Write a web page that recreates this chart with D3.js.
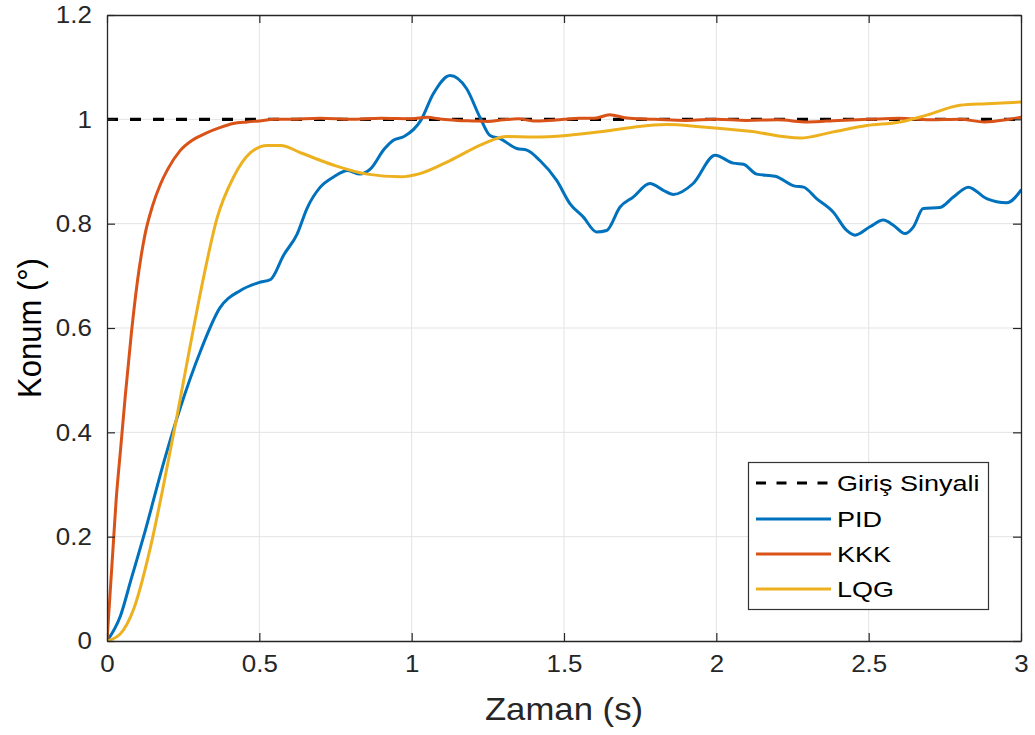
<!DOCTYPE html>
<html>
<head>
<meta charset="utf-8">
<script src="https://cdn.jsdelivr.net/npm/d3@7"></script>
<style>
  html, body { margin: 0; padding: 0; background: #fff; }
  svg { display: block; font-family: "Liberation Sans", Arial, Helvetica, sans-serif; }
</style>
</head>
<body>
<svg id="chart" width="1035" height="735"></svg>
<script>
// Step response: position vs time for three controllers
const xTicks = [0, 0.5, 1, 1.5, 2, 2.5, 3];
const yTicks = [0, 0.2, 0.4, 0.6, 0.8, 1, 1.2];
const xTickLabels = ["0", "0.5", "1", "1.5", "2", "2.5", "3"];
const yTickLabels = ["0", "0.2", "0.4", "0.6", "0.8", "1", "1.2"];
const seriesNames = ["Giriş Sinyali", "PID", "KKK", "LQG"];
const seriesColors = ["#000000", "#0072BD", "#D95319", "#EDB120"];

const inputT = [0, 3];
const inputY = [1, 1];

const pidT = [0, 0.044, 0.08, 0.12, 0.19, 0.24, 0.307, 0.37, 0.438, 0.498, 0.537, 0.58, 0.624, 0.657, 0.70, 0.745, 0.79, 0.83, 0.865, 0.91, 0.94, 0.975, 1.03, 1.071, 1.126, 1.18, 1.224, 1.257, 1.29, 1.345, 1.378, 1.421, 1.476, 1.52, 1.563, 1.607, 1.64, 1.684, 1.727, 1.782, 1.826, 1.859, 1.924, 1.996, 2.056, 2.089, 2.132, 2.193, 2.258, 2.286, 2.329, 2.384, 2.428, 2.455, 2.504, 2.548, 2.581, 2.619, 2.647, 2.679, 2.734, 2.778, 2.827, 2.887, 2.953, 3.0];
const pidY = [0, 0.048, 0.12, 0.2, 0.35, 0.446, 0.556, 0.638, 0.672, 0.687, 0.693, 0.74, 0.78, 0.83, 0.87, 0.89, 0.902, 0.895, 0.905, 0.943, 0.96, 0.967, 0.998, 1.049, 1.084, 1.059, 1.004, 0.969, 0.963, 0.944, 0.941, 0.921, 0.883, 0.838, 0.813, 0.784, 0.787, 0.832, 0.851, 0.877, 0.864, 0.856, 0.877, 0.931, 0.916, 0.914, 0.895, 0.891, 0.872, 0.870, 0.848, 0.822, 0.787, 0.778, 0.794, 0.807, 0.797, 0.781, 0.794, 0.829, 0.831, 0.851, 0.870, 0.848, 0.840, 0.864];

const kkkT = [0, 0.01, 0.02, 0.03, 0.045, 0.06, 0.08, 0.1, 0.125, 0.15, 0.175, 0.2, 0.24, 0.28, 0.327, 0.37, 0.414, 0.46, 0.5, 0.55, 0.6, 0.7, 0.8, 0.9, 1.0, 1.05, 1.1, 1.15, 1.2, 1.25, 1.3, 1.35, 1.4, 1.45, 1.5, 1.55, 1.6, 1.65, 1.7, 1.75, 1.8, 1.9, 2.0, 2.1, 2.2, 2.3, 2.4, 2.5, 2.6, 2.7, 2.8, 2.88, 2.95, 3.0];
const kkkY = [0, 0.09, 0.18, 0.27, 0.37, 0.47, 0.59, 0.69, 0.78, 0.835, 0.875, 0.905, 0.94, 0.96, 0.974, 0.984, 0.992, 0.995, 0.997, 1.0, 1.0, 1.002, 1.0, 1.002, 1.001, 1.004, 1.0, 0.998, 0.997, 0.996, 0.999, 1.001, 0.997, 0.998, 1.0, 1.002, 1.002, 1.009, 1.003, 1.001, 1.0, 0.998, 1.0, 0.998, 0.999, 0.995, 0.998, 1.0, 1.002, 0.999, 1.0, 0.995, 0.999, 1.004];

const lqgT = [0, 0.044, 0.088, 0.142, 0.186, 0.23, 0.274, 0.318, 0.361, 0.416, 0.471, 0.526, 0.57, 0.635, 0.745, 0.854, 0.964, 1.027, 1.126, 1.235, 1.312, 1.399, 1.509, 1.618, 1.727, 1.837, 1.946, 2.11, 2.275, 2.384, 2.494, 2.603, 2.69, 2.8, 2.887, 3.0];
const lqgY = [0, 0.014, 0.062, 0.178, 0.30, 0.432, 0.569, 0.70, 0.81, 0.89, 0.936, 0.95, 0.95, 0.936, 0.912, 0.895, 0.89, 0.896, 0.921, 0.953, 0.967, 0.966, 0.969, 0.976, 0.985, 0.990, 0.986, 0.977, 0.964, 0.976, 0.988, 0.995, 1.008, 1.027, 1.030, 1.033];

const seriesT = [inputT, pidT, kkkT, lqgT];
const seriesY = [inputY, pidY, kkkY, lqgY];

const svg = d3.select("#chart");
const W = 1035, H = 735;
const margin = { left: 107, right: W - 1021, top: 15, bottom: H - 641 };
const x = d3.scaleLinear().domain([0, 3]).range([margin.left, W - margin.right]);
const y = d3.scaleLinear().domain([0, 1.2]).range([H - margin.bottom, margin.top]);

const axisColor = "#262626";
const gridColor = "#e3e3e3";

// grid
const grid = svg.append("g");
grid.selectAll("line.gx").data(xTicks.slice(1, -1)).join("line")
  .attr("x1", d => x(d)).attr("x2", d => x(d))
  .attr("y1", y(0)).attr("y2", y(1.2))
  .attr("stroke", gridColor).attr("stroke-width", 1);
grid.selectAll("line.gy").data(yTicks.slice(1, -1)).join("line")
  .attr("y1", d => y(d)).attr("y2", d => y(d))
  .attr("x1", x(0)).attr("x2", x(3))
  .attr("stroke", gridColor).attr("stroke-width", 1);

// data lines, clipped to the axes box
svg.append("clipPath").attr("id", "plotclip").append("rect")
  .attr("x", x(0)).attr("y", y(1.2)).attr("width", x(3) - x(0)).attr("height", y(0) - y(1.2));

const line = d3.line().x(d => x(d[0])).y(d => y(d[1])).curve(d3.curveMonotoneX);
const lines = svg.append("g").attr("clip-path", "url(#plotclip)");
seriesNames.forEach((name, i) => {
  const pts = seriesT[i].map((t, k) => [t, seriesY[i][k]]);
  lines.append("path")
    .datum(pts)
    .attr("d", line)
    .attr("fill", "none")
    .attr("stroke", seriesColors[i])
    .attr("stroke-width", i === 0 ? 3.2 : 3)
    .attr("stroke-dasharray", i === 0 ? "11,12" : null)
    .attr("stroke-linejoin", "round")
    .attr("stroke-linecap", i === 0 ? "butt" : "round");
});

// axes: ticks pointing inward on all four sides
const tickLen = 8;
const xFmt = d => xTickLabels[xTicks.indexOf(d)];
const yFmt = d => yTickLabels[yTicks.indexOf(d)];

const xBottom = svg.append("g").attr("transform", `translate(0,${y(0)})`)
  .call(d3.axisBottom(x).tickValues(xTicks).tickFormat(xFmt).tickSizeInner(-tickLen).tickSizeOuter(0).tickPadding(14));
const xTop = svg.append("g").attr("transform", `translate(0,${y(1.2)})`)
  .call(d3.axisTop(x).tickValues(xTicks).tickFormat("").tickSizeInner(-tickLen).tickSizeOuter(0));
const yLeft = svg.append("g").attr("transform", `translate(${x(0)},0)`)
  .call(d3.axisLeft(y).tickValues(yTicks).tickFormat(yFmt).tickSizeInner(-tickLen).tickSizeOuter(0).tickPadding(14));
const yRight = svg.append("g").attr("transform", `translate(${x(3)},0)`)
  .call(d3.axisRight(y).tickValues(yTicks).tickFormat("").tickSizeInner(-tickLen).tickSizeOuter(0));

[xBottom, xTop, yLeft, yRight].forEach(g => {
  g.select(".domain").attr("stroke", axisColor).attr("stroke-width", 1.3);
  g.selectAll(".tick line").attr("stroke", axisColor).attr("stroke-width", 1.2);
  g.selectAll(".tick text").attr("fill", axisColor).attr("font-size", 24)
    .attr("font-family", "'Liberation Sans', Arial, sans-serif");
});
// slightly wide lettering on tick labels
xBottom.selectAll(".tick text").attr("dy", "0.71em").attr("transform", "scale(1.08,1)");
yLeft.selectAll(".tick text").attr("transform", "scale(1.08,1)");

// axis titles
svg.append("text")
  .attr("transform", `translate(${(x(0) + x(3)) / 2},720) scale(1.12,1)`)
  .attr("text-anchor", "middle")
  .attr("font-size", 31).attr("fill", axisColor)
  .text("Zaman (s)");
svg.append("text")
  .attr("transform", `translate(41,${(y(0) + y(1.2)) / 2}) rotate(-90) scale(1,1.1)`)
  .attr("text-anchor", "middle")
  .attr("font-size", 31).attr("fill", "#000")
  .text("Konum (°)");

// legend
const leg = svg.append("g");
leg.append("rect")
  .attr("x", 748.5).attr("y", 462.5).attr("width", 240).attr("height", 147)
  .attr("fill", "#fff").attr("stroke", "#333").attr("stroke-width", 1.2);
const rowY = [483, 519, 554, 589];
seriesNames.forEach((name, i) => {
  leg.append("line")
    .attr("x1", 756).attr("x2", 831)
    .attr("y1", rowY[i]).attr("y2", rowY[i])
    .attr("stroke", seriesColors[i])
    .attr("stroke-width", i === 0 ? 3.2 : 3)
    .attr("stroke-dasharray", i === 0 ? "10,10.5" : null);
  leg.append("text")
    .attr("transform", `translate(837,${rowY[i] + 8}) scale(1.2,1)`)
    .attr("font-size", 22.5).attr("fill", "#000")
    .text(name);
});
</script>
</body>
</html>
